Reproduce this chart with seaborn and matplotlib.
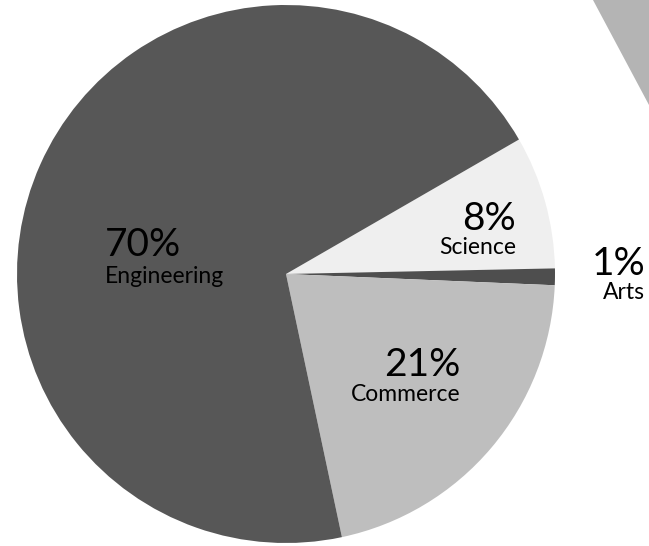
import matplotlib
matplotlib.use("Agg")
import matplotlib.pyplot as plt
import seaborn as sns
from matplotlib.patches import Polygon

sns.set_style("white")
plt.rcParams['font.family'] = ['Lato', 'DejaVu Sans']

# slice data, clockwise from the Engineering/Science border
categories = ['Science', 'Arts', 'Commerce', 'Engineering']
shares = [8, 1, 21, 70]
colors = ['#efefef', '#4e4e4e', '#bebebe', '#575757']

# label placement (data coords, pie radius = 1)
label_pos = {
    'Engineering': (-0.673, 0.066, -0.035, 'left'),
    'Science': (0.855, 0.162, 0.074, 'right'),
    'Commerce': (0.650, -0.378, -0.472, 'right'),
    'Arts': (1.335, -0.003, -0.092, 'right'),
}

W, H = 649, 546
fig = plt.figure(figsize=(W / 100, H / 100), dpi=100)
fig.patch.set_facecolor('white')

# grey shape at top right corner
fig.patches.append(Polygon([(593 / W, 1), (1, 1), (1, 1 - 105 / H)],
                           closed=True, transform=fig.transFigure,
                           facecolor='#b4b4b4', edgecolor='none'))

cx, cy, r = 286, 274, 269
ax = fig.add_axes([(cx - r) / W, (H - cy - r) / H, 2 * r / W, 2 * r / H])
ax.pie(shares, colors=colors, startangle=30, counterclock=False,
       radius=1, wedgeprops=dict(linewidth=0))
ax.set_xlim(-1, 1)
ax.set_ylim(-1, 1)
ax.set_aspect('equal')
ax.axis('off')

for cat, val in zip(categories, shares):
    x, y1, y2, ha = label_pos[cat]
    ax.text(x, y1, f'{val}%', fontsize=28, ha=ha, va='baseline',
            color='black', clip_on=False)
    ax.text(x, y2, cat, fontsize=16.5, ha=ha, va='baseline',
            color='black', clip_on=False)

fig.savefig('out.png', dpi=100)
